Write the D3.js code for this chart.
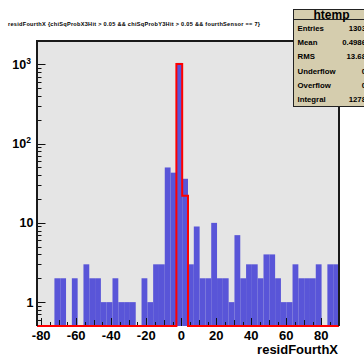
<!DOCTYPE html>
<html>
<head>
<meta charset="utf-8">
<script src="https://cdn.jsdelivr.net/npm/d3@7"></script>
<style>
  body { margin: 0; background: #fff; }
  text { font-family: "Liberation Sans", Arial, sans-serif; font-weight: bold; }
</style>
</head>
<body>
<div id="chart"></div>
<script>
// Variables
var width = 364,
	height = 355;

// histogram range (ROOT picked 52 bins)
var xMin = -82.4,
	xMax = 90.1,
	nBins = 52;

// htemp (blue, filled)
var blueCounts = [0, 0, 0, 2, 2, 0, 2, 0, 3, 2,
	2, 1, 1, 2, 1, 1, 1, 0, 2, 1,
	3, 3, 50, 43, 1042, 36, 3, 9, 2, 2,
	10, 2, 2, 1, 7, 2, 3, 3, 2, 4,
	4, 2, 1, 1, 3, 2, 2, 2, 3, 0,
	3, 3];

// second histogram drawn "same" (red outline)
var redCounts = [0, 0, 0, 0, 0, 0, 0, 0, 0, 0,
	0, 0, 0, 0, 0, 0, 0, 0, 0, 0,
	0, 0, 0, 0, 1010, 22, 0, 0, 0, 0,
	0, 0, 0, 0, 0, 0, 0, 0, 0, 0,
	0, 0, 0, 0, 0, 0, 0, 0, 0, 0,
	0, 0];

var xTickLabels = [-80, -60, -40, -20, 0, 20, 40, 60, 80];
var yDecades = [1, 10, 100, 1000];

var statNames = ["Entries", "Mean", "RMS", "Underflow", "Overflow", "Integral"];
var statValues = ["1303", "0.4986", "13.68", "0", "0", "1278"];

var title = "residFourthX {chiSqProbX3Hit > 0.05 && chiSqProbY3Hit > 0.05 && fourthSensor == 7}";

var frame = {left: 37, right: 339, top: 41, bottom: 326};

var x = d3.scaleLinear()
	.domain([xMin, xMax])
	.range([frame.left, frame.right]);

var y = d3.scaleLog()
	.domain([0.5, 1970])
	.range([frame.bottom, frame.top]);

var binW = (xMax - xMin) / nBins;

var svg = d3.select("#chart").append("svg")
	.attr("width", width)
	.attr("height", height);

svg.append("rect")
	.attr("width", width)
	.attr("height", height)
	.attr("fill", "#fff");

// frame background
svg.append("rect")
	.attr("x", frame.left)
	.attr("y", frame.top)
	.attr("width", frame.right - frame.left)
	.attr("height", frame.bottom - frame.top)
	.attr("fill", "#e5e5e5");

// blue bars
svg.append("g")
	.selectAll("rect")
	.data(blueCounts.map(function(c, i) { return {i: i, c: c}; }).filter(function(d) { return d.c > 0; }))
  .enter().append("rect")
	.attr("x", function(d) { return x(xMin + d.i * binW); })
	.attr("width", function(d) { return x(xMin + (d.i + 1) * binW) - x(xMin + d.i * binW); })
	.attr("y", function(d) { return y(d.c); })
	.attr("height", function(d) { return frame.bottom - y(d.c); })
	.attr("fill", "#5955d8");

// axis ticks (drawn inside the frame, like ROOT)
var yTicks = svg.append("g").attr("stroke", "#111").attr("stroke-width", 1);
var yMinor = [];
[0.1, 1, 10, 100, 1000].forEach(function(dec) {
	for (var k = 2; k <= 9; k++) {
		var v = dec * k;
		if (v > 0.5 && v < 1970) yMinor.push(v);
	}
});
yTicks.selectAll("line.minor")
	.data(yMinor)
  .enter().append("line")
	.attr("x1", frame.left).attr("x2", frame.left + 4.5)
	.attr("y1", function(d) { return Math.round(y(d)) + 0.5; })
	.attr("y2", function(d) { return Math.round(y(d)) + 0.5; });
yTicks.selectAll("line.major")
	.data(yDecades)
  .enter().append("line")
	.attr("x1", frame.left).attr("x2", frame.left + 8.5)
	.attr("y1", function(d) { return Math.round(y(d)) + 0.5; })
	.attr("y2", function(d) { return Math.round(y(d)) + 0.5; });

var xTickVals = d3.range(-80, 91, 5);
svg.append("g").attr("stroke", "#111").attr("stroke-width", 1)
	.selectAll("line")
	.data(xTickVals)
  .enter().append("line")
	.attr("x1", function(d) { return Math.round(x(d)) + 0.5; })
	.attr("x2", function(d) { return Math.round(x(d)) + 0.5; })
	.attr("y1", frame.bottom)
	.attr("y2", function(d) { return frame.bottom - (d % 20 === 0 ? 8 : (d % 10 === 0 ? 6 : 4)); });

// red step outline
var redPts = [[x(xMin), y(Math.max(redCounts[0], 0.5))]];
redCounts.forEach(function(c, i) {
	var v = Math.max(c, 0.5);
	redPts.push([x(xMin + i * binW), y(v)]);
	redPts.push([x(xMin + (i + 1) * binW), y(v)]);
});
svg.append("path")
	.datum(redPts)
	.attr("d", d3.line())
	.attr("fill", "none")
	.attr("stroke", "#ff0000")
	.attr("stroke-width", 2);

// frame border (bottom hidden under the red line)
svg.append("path")
	.attr("d", "M" + frame.left + "," + frame.bottom + "V" + frame.top + "H" + frame.right + "V" + frame.bottom)
	.attr("fill", "none")
	.attr("stroke", "#1a1a1a")
	.attr("stroke-width", 2);

// x labels
svg.append("g")
	.selectAll("text")
	.data(xTickLabels)
  .enter().append("text")
	.attr("x", function(d) { return x(d); })
	.attr("y", 340)
	.attr("text-anchor", "middle")
	.attr("font-size", 13)
	.text(function(d) { return d; });

svg.append("text")
	.attr("x", 338)
	.attr("y", 354)
	.attr("text-anchor", "end")
	.attr("font-size", 13)
	.text("residFourthX");

// y labels
var yl = svg.append("g");
yDecades.forEach(function(d) {
	var ty = y(d) + 4.5;
	if (d < 100) {
		yl.append("text")
			.attr("x", 33.5).attr("y", ty)
			.attr("text-anchor", "end")
			.attr("font-size", 12.5)
			.text(d);
	} else {
		var t = yl.append("text")
			.attr("x", 31).attr("y", ty)
			.attr("text-anchor", "end")
			.attr("font-size", 12.5);
		t.append("tspan").text("10");
		t.append("tspan").attr("dy", -5).attr("font-size", 8.5).text(Math.round(Math.log10(d)));
	}
});

// title
svg.append("text")
	.attr("x", 8)
	.attr("y", 26)
	.attr("font-size", 5.6)
	.attr("textLength", 252)
	.text(title);

// stats box (runs past the right edge, as in the original)
var box = {x: 293.5, y: 9.5, w: 78, h: 97};
svg.append("rect")
	.attr("x", box.x).attr("y", box.y)
	.attr("width", box.w).attr("height", box.h)
	.attr("fill", "#d5cdae")
	.attr("stroke", "#222")
	.attr("stroke-width", 1);
svg.append("line")
	.attr("x1", box.x).attr("x2", box.x + box.w)
	.attr("y1", 19.5).attr("y2", 19.5)
	.attr("stroke", "#222");
svg.append("text")
	.attr("x", box.x + box.w / 2 - 1)
	.attr("y", 18.5)
	.attr("text-anchor", "middle")
	.attr("font-size", 12)
	.text("htemp");

statNames.forEach(function(n, i) {
	var by = 31 + i * 14.2;
	svg.append("text")
		.attr("x", 297.5).attr("y", by)
		.attr("font-size", 7.8)
		.text(n);
	svg.append("text")
		.attr("x", 366).attr("y", by)
		.attr("text-anchor", "end")
		.attr("font-size", 7.8)
		.text(statValues[i]);
});
</script>
</body>
</html>
